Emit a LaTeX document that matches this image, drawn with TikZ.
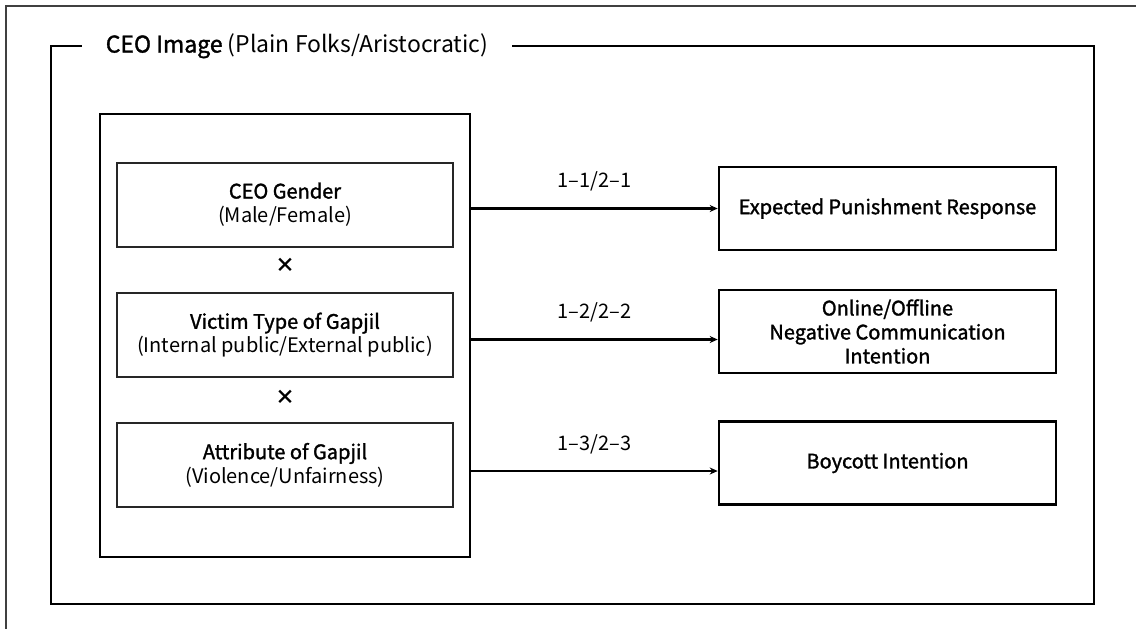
\documentclass[tikz,border=0pt]{standalone}
\usepackage{fontspec}
\setmainfont{Noto Sans CJK KR}
\newfontfamily\gjmed[FakeBold=1.5]{Noto Sans CJK KR}
\usepackage{tikz}
\usetikzlibrary{positioning,arrows.meta,calc}
\tikzset{
  gjframe/.style={draw=black, line width=1.3pt},
  gjtitle/.style={fill=white, inner xsep=11.75pt, font=\fontsize{11.5}{14}\selectfont},
  gjbig/.style={draw=black, line width=1.3pt, minimum width=185pt, minimum height=221.5pt,
                inner sep=0pt},
  gjin/.style={draw=black!85, line width=1pt, minimum width=168pt, minimum height=42pt,
               align=center, inner sep=2pt, font=\fontsize{10}{12}\selectfont},
  gjout/.style={draw=black, line width=1.3pt, minimum width=168.5pt, minimum height=41.5pt,
                align=center, inner sep=2pt, font=\fontsize{10}{12}\selectfont\gjmed},
  gjtimes/.style={font=\fontsize{10}{10}\selectfont\bfseries, inner sep=0pt},
  gjarr/.style={draw=black, line width=1.1pt, -{Stealth[length=4pt,width=3.5pt]}},
  gjedgelab/.style={font=\fontsize{10}{12}\selectfont, inner sep=0pt},
}
\newcommand{\gjEdge}{black!75}

\begin{document}
\begin{tikzpicture}[x=0.5pt, y=-0.5pt]
  \useasboundingbox (0,0) rectangle (1136,629);
  \draw[draw=\gjEdge, line width=1pt] (1136,6) -- (6,6) -- (6,629);

  % moderator frame
  \node[gjtitle] (ttl) at (297,46) {{\gjmed CEO Image} (Plain Folks/Aristocratic)};
  \draw[gjframe] (ttl.west) -- (51,46) -- (51,604) -- (1094,604) -- (1094,46) -- (ttl.east);

  % independent variables
  \node[gjbig] (L) at (285,335.5) {};
  \node[gjin] (I1) at (285,204.5) {{\gjmed CEO Gender}\\(Male/Female)};
  \node[gjtimes] (X1) at (285,265) {\texttimes};
  \node[gjin] (I2) at (285,335) {{\gjmed Victim Type of Gapjil}\\(Internal public/External public)};
  \node[gjtimes] (X2) at (285,397) {\texttimes};
  \node[gjin] (I3) at (285,465) {{\gjmed Attribute of Gapjil}\\(Violence/Unfairness)};

  % dependent variables
  \node[gjout] (O1) at (887.5,208.5) {Expected Punishment Response};
  \node[gjout] (O2) at (887.5,331.5) {Online/Offline\\Negative Communication\\Intention};
  \node[gjout] (O3) at (887.5,463) {Boycott Intention};

  \draw[gjarr] (L.east |- O1.west) -- node[gjedgelab, above=8pt]{1--1/2--1} (O1.west);
  \draw[gjarr] ($(L.east |- O2.west)+(0,-4pt)$) -- node[gjedgelab, above=8pt]{1--2/2--2} ($(O2.west)+(0,-4pt)$);
  \draw[gjarr] ($(L.east |- O3.west)+(0,-4pt)$) -- node[gjedgelab, above=8pt]{1--3/2--3} ($(O3.west)+(0,-4pt)$);
\end{tikzpicture}
\end{document}
